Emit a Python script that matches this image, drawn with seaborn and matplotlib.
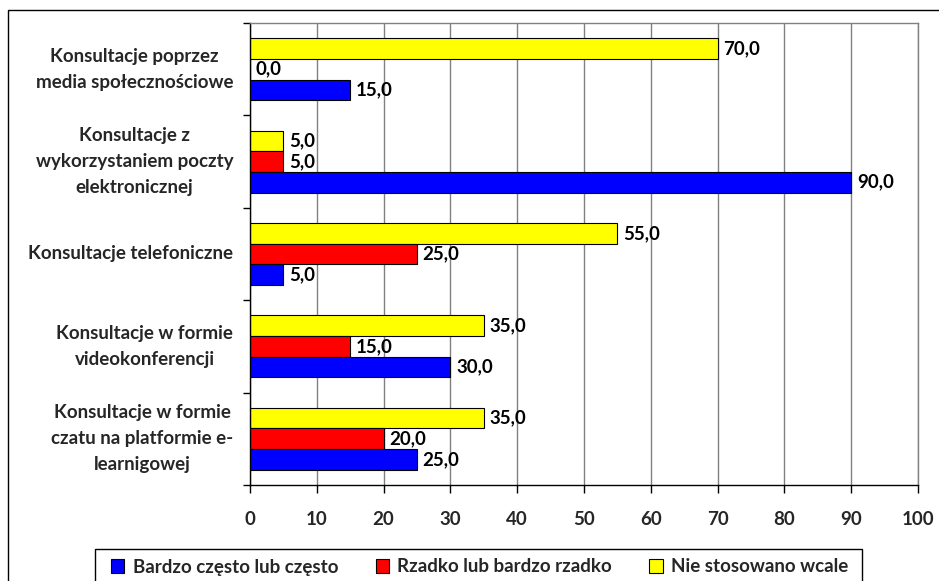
import matplotlib
matplotlib.use("Agg")
import matplotlib.pyplot as plt
import matplotlib.patches as mpatches
from matplotlib.ticker import FixedLocator
import pandas as pd
import seaborn as sns

# data
categories = [
    "Konsultacje poprzez\nmedia społecznościowe",
    "Konsultacje z\nwykorzystaniem poczty\nelektronicznej",
    "Konsultacje telefoniczne",
    "Konsultacje w formie\nvideokonferencji",
    "Konsultacje w formie\nczatu na platformie e-\nlearnigowej",
]
series = ["Bardzo często lub często", "Rzadko lub bardzo rzadko", "Nie stosowano wcale"]
often = [15.0, 90.0, 5.0, 30.0, 25.0]
rarely = [0.0, 5.0, 25.0, 15.0, 20.0]
never = [70.0, 5.0, 55.0, 35.0, 35.0]
x_ticks = [0, 10, 20, 30, 40, 50, 60, 70, 80, 90, 100]

colors = {series[0]: "#0000FF", series[1]: "#FF0000", series[2]: "#FFFF00"}
values = {series[0]: often, series[1]: rarely, series[2]: never}

rows = []
for s in series:
    for c, v in zip(categories, values[s]):
        rows.append({"kategoria": c, "seria": s, "wartosc": v})
df = pd.DataFrame(rows)

sns.set_theme(style="white")
plt.rcParams["font.family"] = ["Lato", "DejaVu Sans"]
plt.rcParams["font.weight"] = "bold"
FS = 13.5

fig = plt.figure(figsize=(9.39, 5.81), dpi=100)
ax = fig.add_axes([250 / 939, 1 - 485 / 581, 668 / 939, 462 / 581])

# top of the group drawn first: yellow, red, blue
hue_order = [series[2], series[1], series[0]]
sns.barplot(data=df, x="wartosc", y="kategoria", hue="seria", order=categories,
            hue_order=hue_order, palette=colors, width=0.67, gap=0,
            edgecolor="black", linewidth=0.8, saturation=1, legend=False, ax=ax)

for container, s in zip(ax.containers, hue_order):
    labels = [f"{v:.1f}".replace(".", ",") for v in values[s]]
    ax.bar_label(container, labels=labels, padding=4, fontsize=FS, fontweight="bold", color="black")

ax.set_xlim(0, 100)
ax.set_ylim(4.5, -0.5)
ax.set_xticks(x_ticks)
ax.set_xticklabels([str(t) for t in x_ticks], fontsize=FS, fontweight="bold")
ax.set_xlabel("")
ax.set_ylabel("")
ax.tick_params(axis="x", direction="out", length=6, width=1, color="black", pad=13, bottom=True)
ax.tick_params(axis="y", which="major", length=0, pad=12, labelsize=FS)
ax.yaxis.set_minor_locator(FixedLocator([i - 0.5 for i in range(len(categories) + 1)]))
ax.tick_params(axis="y", which="minor", direction="out", length=5, width=1, color="black", left=True)
for t in ax.get_yticklabels():
    t.set_multialignment("center")
    t.set_verticalalignment("center")
    t.set_linespacing(1.65)
    t.set_fontweight("bold")

ax.set_axisbelow(True)
ax.grid(axis="x", color="#808080", linewidth=1)
ax.grid(axis="y", visible=False)
for side in ["left", "bottom"]:
    ax.spines[side].set_color("black")
    ax.spines[side].set_linewidth(1)
for side in ["top", "right"]:
    ax.spines[side].set_color("#808080")
    ax.spines[side].set_linewidth(1)

handles = [mpatches.Patch(facecolor=colors[s], edgecolor="black", linewidth=0.8, label=s) for s in series]
fig.legend(handles=handles, loc="center left", bbox_to_anchor=(111 / 939, 1 - 567 / 581),
           ncol=3, frameon=False, fontsize=FS,
           handlelength=0.7, handleheight=0.7, handletextpad=0.45, columnspacing=2.0,
           borderpad=0, borderaxespad=0)

# legend box and outer chart border, both cut off by the edges of the picture
legend_box = mpatches.Rectangle((95 / 939, -0.1), 767 / 939, 0.1 + 1 - 549 / 581,
                                transform=fig.transFigure, fill=False, edgecolor="black",
                                linewidth=1, clip_on=False)
border = mpatches.Rectangle((8 / 939, -0.2), 1.2, 1.2 - 10 / 581, transform=fig.transFigure,
                            fill=False, edgecolor="black", linewidth=1, clip_on=False)
fig.patches.extend([legend_box, border])

fig.savefig("out.png", dpi=100)
